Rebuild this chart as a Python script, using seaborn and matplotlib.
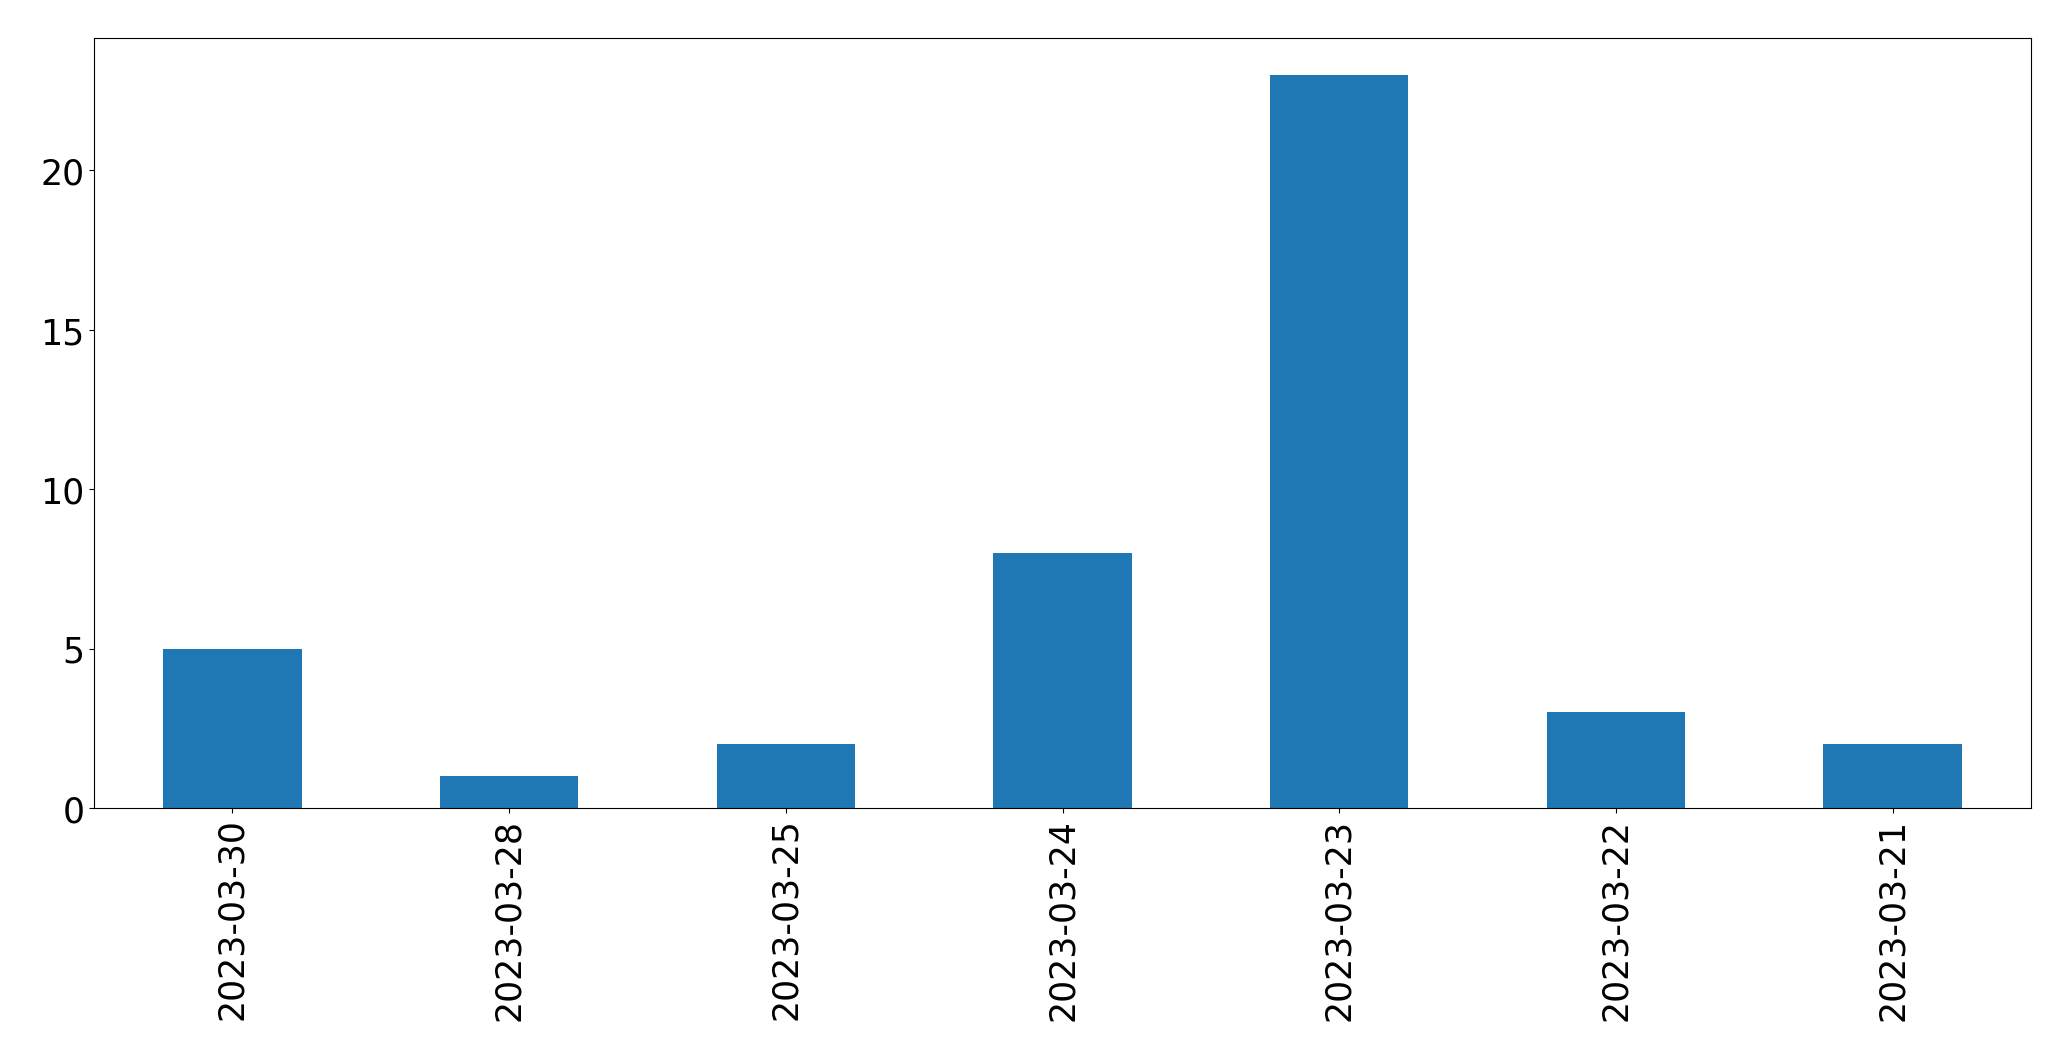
import matplotlib
matplotlib.use("Agg")
import matplotlib.pyplot as plt
import seaborn as sns
import pandas as pd

dates = ["2023-03-30", "2023-03-28", "2023-03-25", "2023-03-24",
         "2023-03-23", "2023-03-22", "2023-03-21"]
counts = [5, 1, 2, 8, 23, 3, 2]

df = pd.DataFrame({"date": dates, "count": counts})

fig = plt.figure(figsize=(20.71, 10.608), dpi=100)
ax = fig.add_axes([94 / 2071, 1 - 809 / 1061, (2031 - 94) / 2071, (809 - 39) / 1061])
sns.barplot(data=df, x="date", y="count", order=dates, color="#1f77b4",
            saturation=1, width=0.5, ax=ax, errorbar=None, linewidth=0)
ax.set_xlim(-0.5, len(dates) - 0.5)
ax.set_ylim(0, max(counts) * 1.05)
ax.set_xlabel("")
ax.set_ylabel("")
ax.tick_params(axis="both", labelsize=25)
ax.tick_params(axis="x", labelrotation=90)
for s in ax.spines.values():
    s.set_visible(True)
    s.set_color("black")
fig.savefig("out.png", dpi=100)
